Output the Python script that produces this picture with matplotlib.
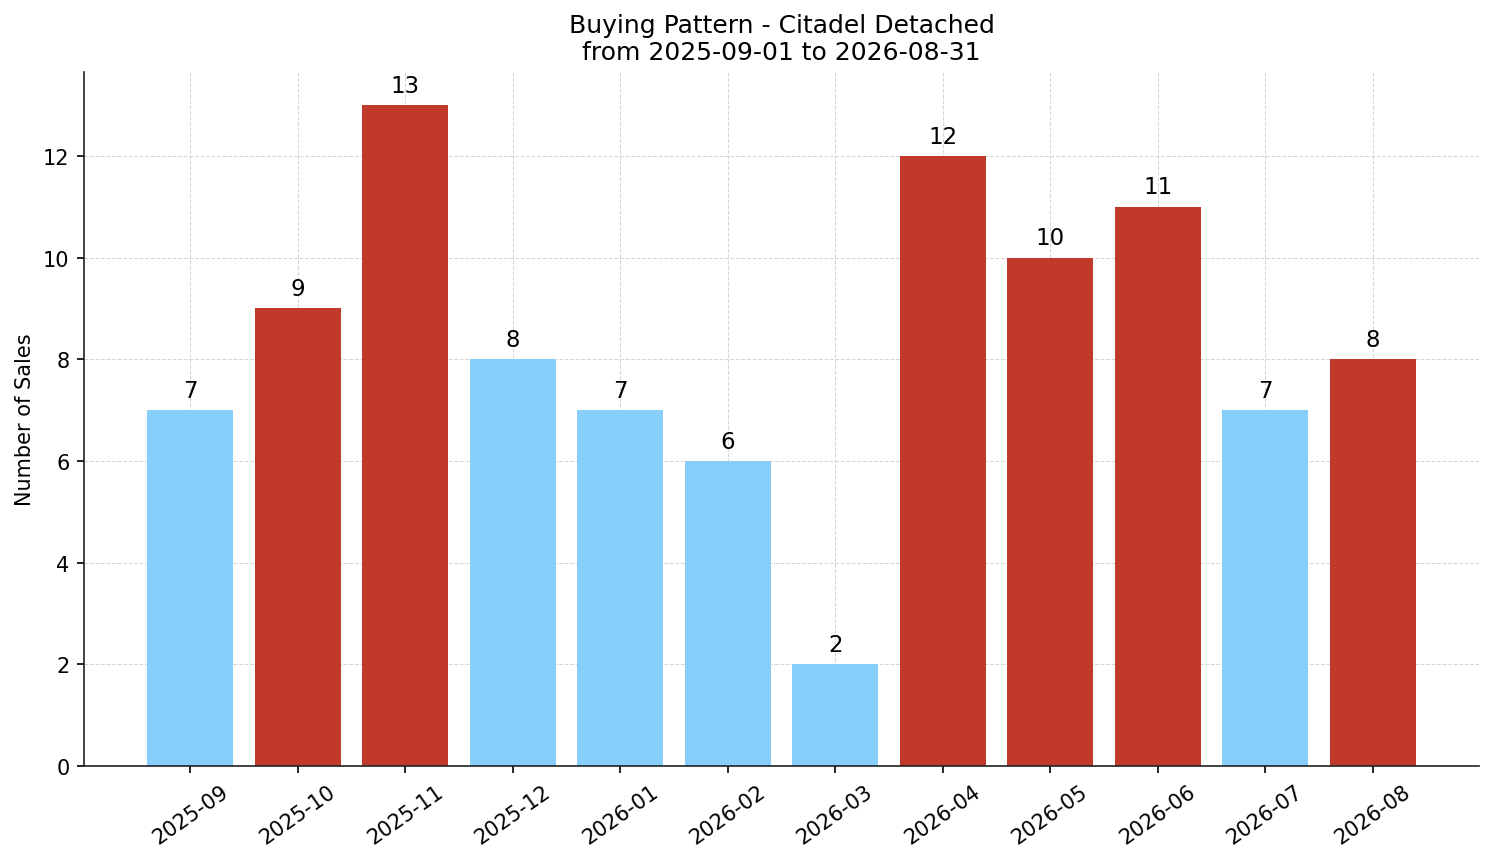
import matplotlib
matplotlib.use("Agg")
import matplotlib.pyplot as plt

months = ["2025-09", "2025-10", "2025-11", "2025-12", "2026-01", "2026-02",
          "2026-03", "2026-04", "2026-05", "2026-06", "2026-07", "2026-08"]
sales = [7, 9, 13, 8, 7, 6, 2, 12, 10, 11, 7, 8]
is_peak = [False, True, True, False, False, False, False, True, True, True, False, True]

BLUE = "#87CEFA"
RED = "#C0392B"
colors = [RED if p else BLUE for p in is_peak]

fig, ax = plt.subplots(figsize=(9.96, 5.753), dpi=150)
fig.subplots_adjust(left=84 / 1494, right=1479 / 1494, top=1 - 73 / 863, bottom=1 - 767 / 863)
x = list(range(len(months)))
bars = ax.bar(x, sales, color=colors, width=0.8, zorder=2)
for b, v in zip(bars, sales):
    ax.annotate(str(v), (b.get_x() + b.get_width() / 2, v), xytext=(0, 4),
                textcoords="offset points", ha="center", va="bottom", fontsize=11)
ax.set_xticks(x)
ax.set_xticklabels(months, rotation=35)
ax.set_ylabel("Number of Sales")
ax.set_title("Buying Pattern - Citadel Detached\nfrom 2025-09-01 to 2026-08-31", fontsize=12)
ax.grid(True, linestyle="--", linewidth=0.5, color="#cccccc", alpha=0.8, zorder=0)
ax.spines["top"].set_visible(False)
ax.spines["right"].set_visible(False)
for s in ("left", "bottom"):
    ax.spines[s].set_color("#222222")
ax.set_ylim(0, 13.65)
fig.savefig("out.png", dpi=150)
